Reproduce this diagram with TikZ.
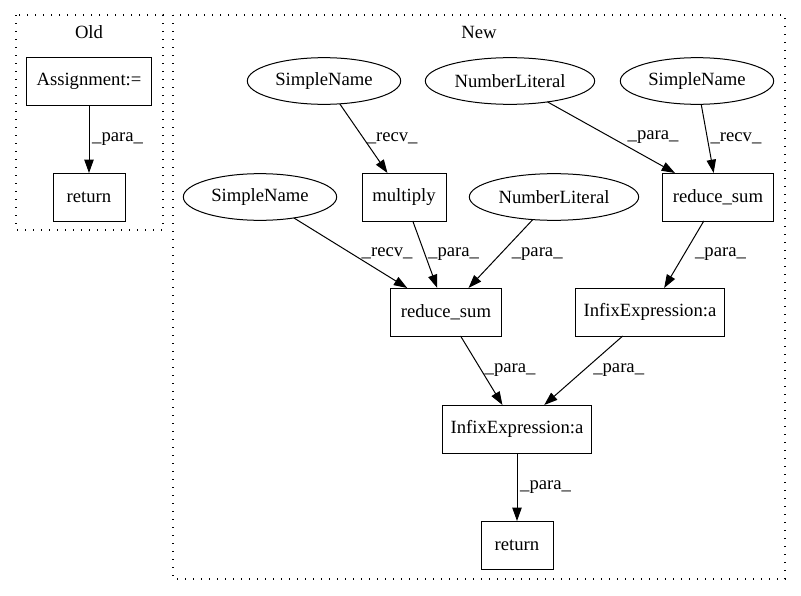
\documentclass[tikz,border=0pt]{standalone}
\usepackage{fontspec}
\setmainfont{Liberation Serif}
\usepackage{tikz}
\usetikzlibrary{shapes.geometric, arrows.meta, positioning}

\begin{document}
\begin{tikzpicture}[
    x=0.75pt, y=-0.75pt,
    font=\fontsize{14}{16}\selectfont,
    >={Triangle[length=10pt, width=7pt]},
    % Node styles - plain graph look
    opbox/.style={draw, line width=0.75pt, inner sep=0pt, outer sep=0pt, minimum height=36pt},
    leafnode/.style={draw, ellipse, line width=0.75pt, inner sep=0pt, outer sep=0pt, minimum height=35pt},
    clusterbox/.style={draw, dash pattern=on 1pt off 5pt, line width=0.9pt},
    arrow/.style={->, line width=0.75pt, color=black},
    elabel/.style={right, inner sep=2pt}
]
\useasboundingbox (0,0) rectangle (801,596);

% ========== OLD ==========
\draw[clusterbox] (16,15) rectangle (163,230);
\node (oldtitle) at (89,32) {Old};

\node[opbox, minimum width=94pt] (assign) at (89,81) {Assignment:=};
\node[opbox, minimum width=54pt] (oldret) at (89,197) {return};

% ========== NEW ==========
\draw[clusterbox] (173,15) rectangle (785,579);
\node (newtitle) at (479,32) {New};

% Leaves (top row)
\node[leafnode, minimum width=115pt] (sn1) at (324,81) {SimpleName};
\node[leafnode, minimum width=127pt] (nl1) at (510,81) {NumberLiteral};
\node[leafnode, minimum width=115pt] (sn3) at (697,81) {SimpleName};

% Second row
\node[leafnode, minimum width=115pt] (sn2) at (260,197) {SimpleName};
\node[opbox, minimum width=63pt] (mult) at (404,197) {multiply};
\node[leafnode, minimum width=127pt] (nl2) at (554,197) {NumberLiteral};
\node[opbox, minimum width=83pt] (rsum1) at (718,197) {reduce\_sum};

% Lower rows
\node[opbox, minimum width=83pt] (rsum2) at (446,312) {reduce\_sum};
\node[opbox, minimum width=112pt] (infix1) at (650,312) {InfixExpression:a};
\node[opbox, minimum width=112pt] (infix2) at (517,429) {InfixExpression:a};
\node[opbox, minimum width=54pt] (newret) at (517,545) {return};

% ========== ARROWS ==========
% Old
\draw[arrow] (assign) -- node[elabel] {\_para\_} (oldret);

% New: top row to second row
\draw[arrow] (sn1) -- node[elabel] {\_recv\_} (mult);
\draw[arrow] (nl1) -- node[elabel, xshift=10pt] {\_para\_} (rsum1);
\draw[arrow] (sn3) -- node[elabel] {\_recv\_} (rsum1);

% New: into the middle reduce_sum
\draw[arrow] (sn2) -- node[elabel, xshift=6pt] {\_recv\_} (rsum2);
\draw[arrow] (mult) -- node[elabel] {\_para\_} (rsum2);
\draw[arrow] (nl2) -- node[elabel, xshift=6pt] {\_para\_} (rsum2);
\draw[arrow] (rsum1) -- node[elabel, xshift=6pt] {\_para\_} (infix1);

% New: down to return
\draw[arrow] (rsum2) -- node[elabel] {\_para\_} (infix2);
\draw[arrow] (infix1) -- node[elabel, xshift=5pt] {\_para\_} (infix2);
\draw[arrow] (infix2) -- node[elabel] {\_para\_} (newret);

\end{tikzpicture}
\end{document}
